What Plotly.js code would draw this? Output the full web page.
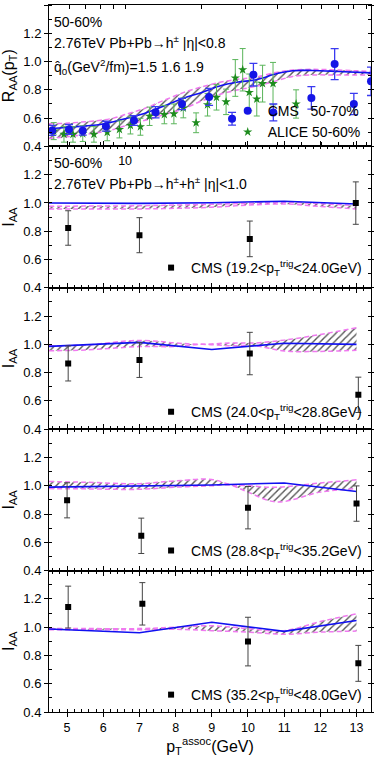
<!DOCTYPE html>
<html>
<head>
<meta charset="utf-8">
<script src="https://cdn.plot.ly/plotly-3.0.1.min.js"></script>
<style>html,body{margin:0;padding:0;background:#fff;}#chart{width:374px;height:757px;}</style>
</head>
<body>
<div id="chart"></div>
<script>
// ---------- Panel 1: R_AA(pT) ----------
const cmsRaaPt  = [5.15, 6.0, 6.8, 8.4, 10.85, 13.2, 16.8, 21.5, 26.5, 32.2, 38.6, 54.6, 67.5, 80.4, 94];
const cmsRaa    = [0.513, 0.52, 0.51, 0.543, 0.583, 0.642, 0.70, 0.75, 0.595, 0.907, 0.64, 0.743, 0.982, 0.70, 0.86];
const cmsRaaErr = [0.035, 0.035, 0.03, 0.035, 0.035, 0.04, 0.04, 0.06, 0.045, 0.08, 0.06, 0.08, 0.11, 0.075, 0.1];

const aliceRaaPt  = [5.22, 5.73, 6.22, 6.8, 7.53, 8.5, 9.5, 10.5, 11.5, 12.5, 14.3, 15.6, 17.0, 19.1, 21.2, 23.0, 25.1, 27.3, 29.2, 31, 33.2, 35.0, 38.5, 47.5];
const aliceRaa    = [0.508, 0.485, 0.485, 0.49, 0.485, 0.50, 0.52, 0.548, 0.539, 0.613, 0.625, 0.63, 0.672, 0.567, 0.695, 0.747, 0.715, 0.884, 0.942, 0.782, 0.735, 0.844, 0.844, 0.70];
const aliceRaaErr = [0.06, 0.055, 0.055, 0.055, 0.055, 0.06, 0.06, 0.06, 0.06, 0.065, 0.065, 0.07, 0.07, 0.07, 0.08, 0.09, 0.09, 0.13, 0.15, 0.13, 0.12, 0.13, 0.15, 0.1];

const thRaaPt    = [5, 6, 7, 8, 9, 10, 12, 14, 17, 20, 24, 28, 33, 40, 46, 55, 70, 94];
const thRaaUpper = [0.56, 0.565, 0.575, 0.585, 0.60, 0.625, 0.67, 0.72, 0.78, 0.82, 0.855, 0.875, 0.89, 0.925, 0.94, 0.945, 0.94, 0.93];
const thRaaLower = [0.455, 0.47, 0.485, 0.50, 0.52, 0.545, 0.585, 0.62, 0.665, 0.72, 0.77, 0.80, 0.825, 0.865, 0.895, 0.905, 0.905, 0.905];
const thRaaLine  = [0.525, 0.535, 0.545, 0.555, 0.575, 0.595, 0.635, 0.68, 0.74, 0.78, 0.83, 0.855, 0.872, 0.915, 0.935, 0.937, 0.93, 0.92];

// ---------- Panels 2-5: I_AA(pT assoc) ----------
const iaaLabels = ["CMS (19.2<p<sub>T</sub><sup>trig</sup><24.0GeV)", "CMS (24.0<p<sub>T</sub><sup>trig</sup><28.8GeV)",
                   "CMS (28.8<p<sub>T</sub><sup>trig</sup><35.2GeV)", "CMS (35.2<p<sub>T</sub><sup>trig</sup><48.0GeV)"];
const iaaX   = [[5.03, 7.0, 10.05, 12.98], [5.03, 7.0, 10.05, 13.05], [5.0, 7.05, 10.0, 13.0], [5.03, 7.08, 10.0, 13.05]];
const iaaY   = [[0.823, 0.772, 0.746, 0.999], [0.865, 0.889, 0.935, 0.643], [0.897, 0.646, 0.845, 0.874], [1.142, 1.165, 0.898, 0.744]];
const iaaErr = [[0.122, 0.124, 0.126, 0.15], [0.124, 0.123, 0.15, 0.125], [0.124, 0.125, 0.15, 0.125], [0.148, 0.15, 0.172, 0.127]];

const thLineX = [4.5, 7, 9, 11, 13];
const thLineY = [[1.0, 0.997, 1.002, 1.012, 0.993], [0.986, 1.014, 0.964, 1.008, 1.0], [0.99, 0.997, 1.005, 1.02, 0.96], [0.987, 0.96, 1.035, 0.97, 1.047]];
const thBandX = [[4.5, 5.5, 7, 8, 9, 10, 11, 12, 13], [4.5, 5.5, 7, 8, 8.7, 9.5, 10.2, 11, 12, 13],
                 [4.5, 5.5, 7, 8, 9, 9.5, 10, 10.8, 12, 13], [4.5, 5.5, 7, 8, 9, 10, 11, 12, 13]];
const thBandUpper = [[0.976, 0.978, 0.98, 0.985, 0.99, 0.998, 1.005, 0.995, 0.98],
                     [0.99, 0.995, 1.028, 1.01, 1.0, 1.01, 1.01, 1.03, 1.07, 1.118],
                     [1.03, 1.025, 1.015, 1.035, 1.045, 1.01, 1.0, 0.99, 1.02, 1.042],
                     [0.99, 0.99, 0.99, 1.0, 1.01, 0.99, 0.975, 1.04, 1.095]];
const thBandLower = [[0.958, 0.958, 0.958, 0.962, 0.97, 0.985, 0.993, 0.975, 0.958],
                     [0.955, 0.96, 0.984, 0.985, 1.0, 0.99, 0.99, 0.953, 0.95, 0.958],
                     [0.98, 0.978, 0.975, 0.99, 1.0, 1.005, 0.955, 0.885, 0.955, 0.98],
                     [0.982, 0.982, 0.982, 0.985, 0.975, 0.965, 0.95, 0.965, 0.972]];

// ---------- styles ----------
const FONT = "Arial, 'Liberation Sans', sans-serif";
const BLUE = "#1010f0";
const PINK = "#f07af0";
const pattern = {shape: "/", fgcolor: "#555555", bgcolor: "rgba(255,255,255,0)", size: 5, solidity: 0.28};

const traces = [];
function band(xs, lo, hi, xa, ya) {
  traces.push({x: xs, y: lo, xaxis: xa, yaxis: ya, mode: "lines", type: "scatter", showlegend: false,
               line: {color: PINK, width: 1.5, dash: "5px,3px", shape: "spline"}, hoverinfo: "skip"});
  traces.push({x: xs, y: hi, xaxis: xa, yaxis: ya, mode: "lines", type: "scatter", showlegend: false,
               fill: "tonexty", fillcolor: "rgba(255,255,255,0)", fillpattern: pattern,
               line: {color: PINK, width: 1.5, dash: "5px,3px", shape: "spline"}, hoverinfo: "skip"});
}

// panel 1
band(thRaaPt, thRaaLower, thRaaUpper, "x", "y");
traces.push({x: thRaaPt, y: thRaaLine, xaxis: "x", yaxis: "y", mode: "lines", type: "scatter", showlegend: false,
             line: {color: BLUE, width: 1.6, shape: "spline"}});
traces.push({x: aliceRaaPt, y: aliceRaa, xaxis: "x", yaxis: "y", mode: "markers", type: "scatter",
             name: "ALICE 50-60%", legend: "legend",
             marker: {symbol: "star", size: 7, color: "#1e8c1e"},
             error_y: {type: "data", array: aliceRaaErr, color: "#5ab55a", thickness: 1, width: 3}});
traces.push({x: cmsRaaPt, y: cmsRaa, xaxis: "x", yaxis: "y", mode: "markers", type: "scatter",
             name: "CMS&nbsp;&nbsp; 50-70%", legend: "legend",
             marker: {symbol: "circle", size: 8, color: "#1515e6"},
             error_y: {type: "data", array: cmsRaaErr, color: "#3a3af0", thickness: 1.3, width: 4}});

// panels 2-5
for (let i = 0; i < 4; i++) {
  const xa = "x" + (i + 2), ya = "y" + (i + 2);
  band(thBandX[i], thBandLower[i], thBandUpper[i], xa, ya);
  traces.push({x: thLineX, y: thLineY[i], xaxis: xa, yaxis: ya, mode: "lines", type: "scatter", showlegend: false,
               line: {color: BLUE, width: 1.6}});
  traces.push({x: iaaX[i], y: iaaY[i], xaxis: xa, yaxis: ya, mode: "markers", type: "scatter",
               name: iaaLabels[i], legend: "legend" + (i + 2), showlegend: true,
               marker: {symbol: "square", size: 6, color: "#000"},
               error_y: {type: "data", array: iaaErr[i], color: "#444", thickness: 1, width: 3}});
}

// ---------- layout ----------
const yTickVals = [0.4, 0.6, 0.8, 1.0, 1.2, 1.4];
function yAxis(idx, withTop, title) {
  return {
    domain: [(4 - idx) * 0.2, (5 - idx) * 0.2], anchor: "x" + (idx === 0 ? "" : idx + 1),
    range: [0.4, 1.4], tickvals: yTickVals,
    ticktext: withTop ? ["0.4", "0.6", "0.8", "1.0", "1.2", "1.4"] : ["0.4", "0.6", "0.8", "1.0", "1.2", ""],
    ticks: "outside", ticklen: 4, tickcolor: "#000", mirror: "allticks", showline: true, linecolor: "#000", linewidth: 1,
    minor: {dtick: 0.1, ticks: "inside", ticklen: 3, tickcolor: "#000"},
    showgrid: false, zeroline: false, tickfont: {size: 13, family: FONT, color: "#000"},
    title: {text: title, font: {size: 16, family: FONT, color: "#000"}, standoff: 6}
  };
}
const logTickVals = [5, 6, 7, 8, 9, 10, 20, 30, 40, 50, 60, 70, 80, 90];
const layout = {
  width: 374, height: 757,
  margin: {l: 49, r: 3, t: 5, b: 45},
  paper_bgcolor: "#fff", plot_bgcolor: "#fff",
  font: {family: FONT, color: "#000"},
  xaxis: {type: "log", range: [Math.log10(5), Math.log10(94)], anchor: "y", domain: [0, 1],
          tickvals: logTickVals, ticktext: logTickVals.map(v => v === 10 ? "10" : ""),
          ticks: "inside", ticklen: 4, tickcolor: "#000", mirror: "allticks", showline: true, linecolor: "#000",
          showgrid: false, zeroline: false, tickfont: {size: 12.5, family: FONT}, ticklabelstandoff: 3},
  yaxis: yAxis(0, true, "R<sub>AA</sub>(p<sub>T</sub>)"),
  showlegend: true,
  legend: {x: 0.555, y: 0.835, xanchor: "left", yanchor: "middle", bgcolor: "rgba(0,0,0,0)",
           font: {size: 14, family: FONT}, traceorder: "reversed", tracegroupgap: 0}
};
const legendY = [0.628, 0.424, 0.228, 0.024];
for (let i = 0; i < 4; i++) {
  const n = i + 2;
  layout["xaxis" + n] = {anchor: "y" + n, domain: [0, 1], range: [4.5, 13.4], tickvals: [5, 6, 7, 8, 9, 10, 11, 12, 13],
    ticks: "outside", ticklen: 4, tickcolor: "#000", mirror: "allticks", showline: true, linecolor: "#000",
    minor: {dtick: 0.2, ticks: "inside", ticklen: 3, tickcolor: "#000"},
    showgrid: false, zeroline: false, showticklabels: n === 5, tickfont: {size: 12.5, family: FONT},
    title: n === 5 ? {text: "p<sub>T</sub><sup>assoc</sup>(GeV)", font: {size: 16, family: FONT}, standoff: 2} : {text: ""}};
  layout["yaxis" + n] = yAxis(i + 1, false, "I<sub>AA</sub>");
  layout["legend" + n] = {x: 0.317, y: legendY[i], xanchor: "left", yanchor: "middle", bgcolor: "rgba(0,0,0,0)",
    font: {size: 14, family: FONT}};
}
function note(text, px, py) {
  return {text: text, xref: "paper", yref: "paper", x: (px - 49) / 322, y: (712 - py) / 707,
          xanchor: "left", yanchor: "middle", showarrow: false, font: {size: 14, family: FONT, color: "#000"}};
}
layout.annotations = [
  note("50-60%", 52, 22),
  note("2.76TeV Pb+Pb→h<sup>±</sup> |η|<0.8", 52, 42),
  note("q&#770;<sub>0</sub>(GeV<sup>2</sup>/fm)=1.5 1.6 1.9", 52, 67),
  note("50-60%", 52, 163),
  note("2.76TeV Pb+Pb→h<sup>±</sup>+h<sup>±</sup> |η|<1.0", 52, 183)
];

Plotly.newPlot("chart", traces, layout, {staticPlot: true, displayModeBar: false});
</script>
</body>
</html>
